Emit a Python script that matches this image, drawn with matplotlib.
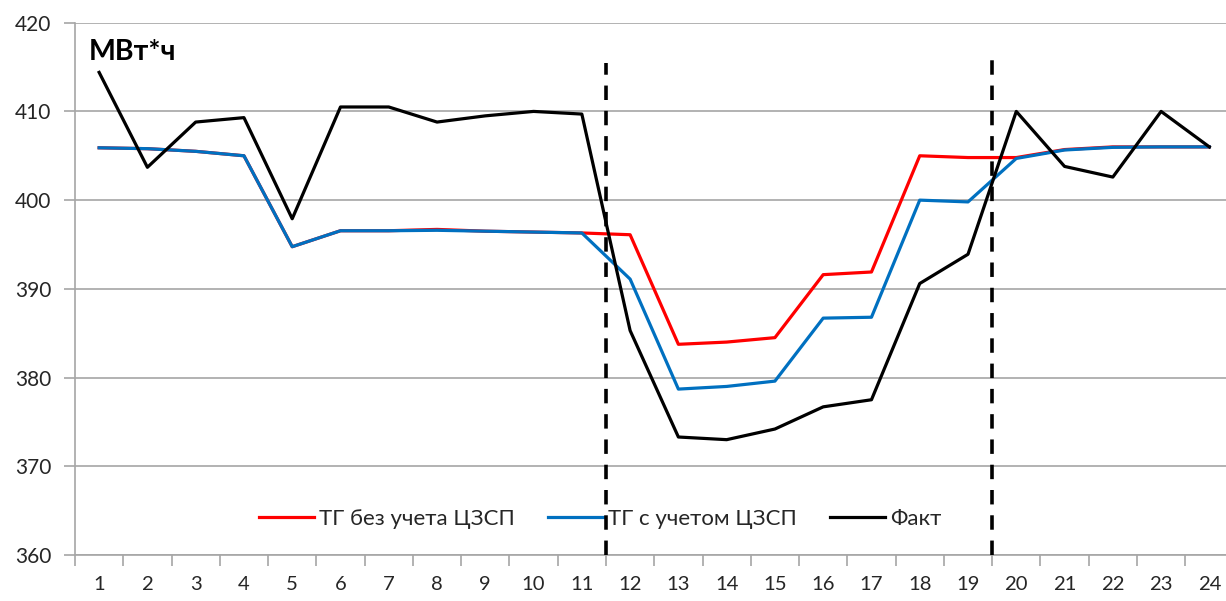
import numpy as np
import matplotlib
matplotlib.use("Agg")
import matplotlib.pyplot as plt

plt.rcParams['font.family'] = ['Lato', 'DejaVu Sans']

hours = list(range(1, 25))
tg_no_czsp = [405.9, 405.8, 405.5, 405.0, 394.75, 396.55, 396.55, 396.7, 396.5, 396.4, 396.3, 396.1,
              383.75, 384.0, 384.5, 391.6, 391.9, 405.0, 404.8, 404.8, 405.7, 406.0, 406.0, 406.0]
tg_czsp = [405.9, 405.8, 405.5, 405.0, 394.75, 396.55, 396.55, 396.6, 396.5, 396.4, 396.3, 391.1,
           378.7, 379.0, 379.6, 386.7, 386.8, 400.0, 399.8, 404.7, 405.65, 405.95, 406.0, 406.0]
fact = [414.4, 403.7, 408.8, 409.3, 397.9, 410.5, 410.5, 408.8, 409.5, 410.0, 409.7, 385.3,
        373.3, 373.0, 374.2, 376.7, 377.5, 390.6, 393.9, 410.0, 403.8, 402.6, 410.0, 406.0]
labels = ['ТГ без учета ЦЗСП', 'ТГ с учетом ЦЗСП', 'Факт']
split_pos = [11.5, 19.5]
split_top = [415.5, 416.2]

fig = plt.figure(figsize=(12.26, 6.01), dpi=100)
ax = fig.add_axes([75 / 1226, 1 - 555 / 601, 1158.5 / 1226, 532.3 / 601])

grid_c = '#a6a6a6'
ax.set_ylim(360, 420)
ax.set_xlim(0.5, 24.5)
ax.set_yticks(np.arange(360, 421, 10))
ax.yaxis.grid(True, color=grid_c, linewidth=1.2)
ax.set_axisbelow(True)

ax.plot(hours, tg_no_czsp, color='#ff0000', lw=2.3, label=labels[0], zorder=3)
ax.plot(hours, tg_czsp, color='#0070c0', lw=2.3, label=labels[1], zorder=4)
ax.plot(hours, fact, color='black', lw=2.3, label=labels[2], zorder=5)

for xp, yt in zip(split_pos, split_top):
    ax.plot([xp, xp], [360, yt], color='black', lw=2.6, ls=(0, (4, 3)), zorder=6, clip_on=False)

# ticks at boundaries, labels at centers
ax.set_xticks(np.arange(0.5, 25, 1))
ax.set_xticklabels([])
ax.set_xticks(hours, minor=True)
ax.set_xticklabels([str(h) for h in hours], minor=True)
ax.tick_params(axis='x', which='major', length=8, color=grid_c, width=1.2, direction='out')
ax.tick_params(axis='x', which='minor', length=0, pad=15, labelsize=14.6, labelcolor='#262626')
ax.tick_params(axis='y', length=8, color=grid_c, width=1.2, pad=9, labelsize=15, labelcolor='#262626')

for s in ['top', 'right']:
    ax.spines[s].set_visible(False)
for s in ['left', 'bottom']:
    ax.spines[s].set_color(grid_c)
    ax.spines[s].set_linewidth(1.2)

ax.text(89 / 1226, 1 - 52 / 601, 'МВт*ч', transform=fig.transFigure, fontsize=20.5,
        fontweight='bold', va='center', ha='left')

leg = ax.legend(loc='center', bbox_to_anchor=(0.453, 0.068), ncol=3, frameon=False,
                fontsize=16, handlelength=2.5, handletextpad=0.2, columnspacing=1.5)
for t in leg.get_texts():
    t.set_color('#262626')

fig.savefig('out.png', dpi=100)
